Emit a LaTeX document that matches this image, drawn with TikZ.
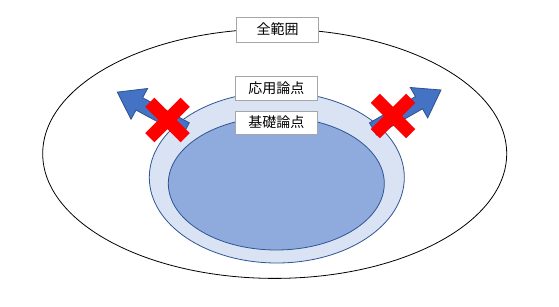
\documentclass[tikz,border=0pt]{standalone}
\usepackage{fontspec}
\newfontfamily\jpfont{Noto Sans CJK JP}
\definecolor{lightfill}{HTML}{DAE3F3}
\definecolor{innerfill}{HTML}{8FAADC}
\definecolor{edgeblue}{HTML}{2F5597}
\definecolor{arrowfill}{HTML}{4472C4}
\definecolor{arrowedge}{HTML}{2F528F}
\definecolor{boxgray}{HTML}{A6A6A6}
\tikzset{
  lbl/.style={draw=boxgray, fill=white, line width=0.8pt, minimum width=82pt, minimum height=24pt, inner sep=0pt, font=\jpfont\fontsize{14}{16}\selectfont},
  blockarrow/.style={fill=arrowfill, draw=arrowedge, line width=0.8pt, line join=miter},
  crossarm/.style={fill=red}
}
\begin{document}
\begin{tikzpicture}[x=1pt,y=-1pt]
\useasboundingbox (0,0) rectangle (559,307);
\fill[white] (0,0) rectangle (559,307);
% ellipses
\draw[black, line width=0.8pt] (274.7,153.7) ellipse [x radius=232, y radius=124.7];
\draw[edgeblue, fill=lightfill, line width=0.8pt] (276.8,177.5) ellipse [x radius=127.5, y radius=85.5];
\draw[edgeblue, fill=innerfill, line width=0.8pt] (276.3,183.5) ellipse [x radius=108, y radius=66.5];
% arrows
\draw[blockarrow] (189.3,122.8) -- (142.6,97.7) -- (147.6,88.5) -- (117.3,92.1) -- (131.0,119.3) -- (136.0,110.1) -- (182.7,135.2) -- cycle;
\draw[blockarrow] (369.5,122.9) -- (415.5,96.6) -- (410.3,87.5) -- (441,90) -- (427.7,117.9) -- (422.5,108.8) -- (376.5,135.1) -- cycle;
% crosses
\begin{scope}[shift={(167.5,120)}]
  \fill[crossarm, rotate=45] (-25,-6.5) rectangle (25,6.5);
  \fill[crossarm, rotate=-45] (-25,-6.5) rectangle (25,6.5);
\end{scope}
\begin{scope}[shift={(393,116)}]
  \fill[crossarm, rotate=45] (-25,-6.5) rectangle (25,6.5);
  \fill[crossarm, rotate=-45] (-25,-6.5) rectangle (25,6.5);
\end{scope}
% labels
\node[lbl, minimum height=25pt] (all) at (277.5,29.5) {全範囲};
\node[lbl] (applied) at (276.3,88.3) {応用論点};
\node[lbl, minimum height=23pt] (basic) at (276.3,122.5) {基礎論点};
\end{tikzpicture}
\end{document}
